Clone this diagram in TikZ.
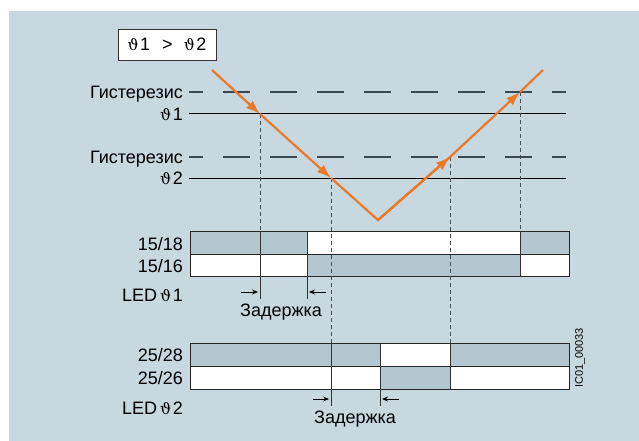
\documentclass[tikz,border=0pt]{standalone}
\usepackage{fontspec}
\setmainfont{Liberation Sans}
\newfontfamily\thf{DejaVu Serif}
\usetikzlibrary{arrows.meta}
\definecolor{bgc}{RGB}{199,216,224}
\definecolor{barg}{RGB}{180,199,209}
\definecolor{org}{RGB}{236,120,40}
\definecolor{hyc}{RGB}{60,72,80}
\definecolor{vdc}{RGB}{70,78,86}
\newcommand{\vth}{{\thf\fontsize{15.5}{16}\selectfont ϑ}\hspace{1.5pt}}
\begin{document}
\begin{tikzpicture}[x=1pt,y=-1pt,
  font=\fontsize{18}{20}\selectfont,
  lbl/.style={anchor=base east, inner sep=0pt},
  mid/.style={anchor=base, inner sep=0pt},
  thr/.style={line width=1pt, black},
  hys/.style={line width=1.6pt, hyc, dash pattern=on 27pt off 20pt, dash phase=13pt},
  vd/.style={line width=0.9pt, vdc, dash pattern=on 4pt off 3pt},
  vs/.style={line width=0.9pt, black!80},
  bar/.style={draw=black!85, line width=0.9pt},
  ora/.style={org, line width=2.2pt},
  oarr/.style={ora, -{Latex[length=14pt,width=10pt]}},
  dl/.style={line width=0.9pt, -{Stealth[length=6pt,width=5pt]}},
]
\useasboundingbox (0,0) rectangle (639,441);
\fill[bgc] (9,11) rectangle (639,441);

% comparison box
\node[draw=black!80, fill=white, line width=0.9pt, minimum width=98pt, minimum height=31pt, inner sep=0pt] (cmp) at (167,44.5) {\vth1\hspace{12pt}>\hspace{11pt}\vth2};

% threshold and hysteresis lines
\coordinate (h1s) at (189,92);  \coordinate (h1e) at (566,92);
\coordinate (t1s) at (189,114); \coordinate (t1e) at (566,114);
\coordinate (h2s) at (189,157); \coordinate (h2e) at (566,157);
\coordinate (t2s) at (189,178); \coordinate (t2e) at (566,178);
\draw[hys] (h1s) -- (h1e);
\draw[hys] (h2s) -- (h2e);
\draw[thr] (t1s) -- (t1e);
\draw[thr] (t2s) -- (t2e);

\node[lbl] (lh1) at (183,98.5) {Гистерезис};
\node[lbl] (lt1) at (183,120.5) {\vth1};
\node[lbl] (lh2) at (183,163.5) {Гистерезис};
\node[lbl] (lt2) at (183,184.5) {\vth2};

% top bars
\fill[barg] (190,231) rectangle (307,254);
\fill[white] (307,231) rectangle (520,254);
\fill[barg] (520,231) rectangle (569,254);
\fill[white] (190,254) rectangle (307,276);
\fill[barg] (307,254) rectangle (520,276);
\fill[white] (520,254) rectangle (569,276);
\draw[bar] (190,231) rectangle (569,276);
\draw[bar] (190,254) -- (569,254);

% bottom bars
\fill[barg] (190,343) rectangle (380,366);
\fill[white] (380,343) rectangle (450,366);
\fill[barg] (450,343) rectangle (569,366);
\fill[white] (190,366) rectangle (380,389);
\fill[barg] (380,366) rectangle (450,389);
\fill[white] (450,366) rectangle (569,389);
\draw[bar] (190,343) rectangle (569,389);
\draw[bar] (190,366) -- (569,366);

\node[lbl] (l1518) at (183,250) {15/18};
\node[lbl] (l1516) at (183,272.7) {15/16};
\node[lbl] (led1) at (183,301.7) {LED\hspace{3pt}\vth1};
\node[lbl] (l2528) at (183,361.7) {25/28};
\node[lbl] (l2526) at (183,384) {25/26};
\node[lbl] (led2) at (183,414) {LED\hspace{3pt}\vth2};

% orange curve points
\coordinate (A) at (212,70);
\coordinate (P1) at (260,114);
\coordinate (P2) at (331,178);
\coordinate (V) at (378,220);
\coordinate (P3) at (450,157);
\coordinate (P4) at (520,92);
\coordinate (E) at (543,70);

% vertical dashed lines
\draw[vd] (P1) -- (260,231);
\draw[vd] (P2) -- (331,343);
\draw[vd] (P3) -- (450,343);
\draw[vd] (P4) -- (520,231);

% solid division / delay lines
\draw[vs] (260,231) -- (260,299);
\draw[vs] (307,231) -- (307,299);
\draw[vs] (520,231) -- (520,276);
\draw[vs] (331,343) -- (331,406);
\draw[vs] (380,343) -- (380,406);
\draw[vs] (450,343) -- (450,389);

% delay arrows
\coordinate (d1a) at (241,292); \coordinate (d1b) at (258,292);
\coordinate (d1c) at (326,292); \coordinate (d1d) at (309,292);
\draw[dl] (d1a) -- (d1b);
\draw[dl] (d1c) -- (d1d);
\node[mid] (z1) at (281,316.7) {Задержка};
\coordinate (d2a) at (313,399); \coordinate (d2b) at (329,399);
\coordinate (d2c) at (399,399); \coordinate (d2d) at (382,399);
\draw[dl] (d2a) -- (d2b);
\draw[dl] (d2c) -- (d2d);
\node[mid] (z2) at (355,423) {Задержка};

% orange line
\draw[oarr] (A) -- (P1);
\draw[oarr] (P1) -- (P2);
\draw[ora, line join=miter] (P2) -- (V) -- (P3);
\draw[oarr] (V) -- (P3);
\draw[oarr] (P3) -- (P4);
\draw[ora] (P4) -- (E);

\node[rotate=90, font=\fontsize{11}{12}\selectfont, inner sep=0pt] (ic) at (580,358) {IC01\_00033};
\end{tikzpicture}
\end{document}
